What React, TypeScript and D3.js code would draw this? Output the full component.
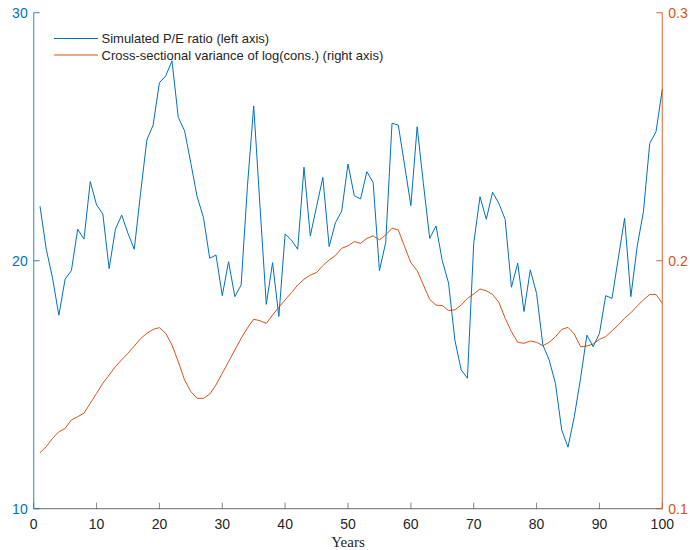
import React from "react";
import * as d3 from "d3";

const years: number[] = Array.from({ length: 100 }, (_, i) => i + 1);

const peRatio: number[] = [
  22.2, 20.46, 19.3, 17.8, 19.26, 19.6, 21.27, 20.87, 23.19, 22.25,
  21.88, 19.68, 21.27, 21.84, 21.1, 20.46, 22.72, 24.87, 25.47, 27.18,
  27.45, 28.06, 25.78, 25.24, 23.93, 22.58, 21.75, 20.1, 20.23, 18.59,
  19.96, 18.55, 19.02, 23.0, 26.24, 22.2, 18.24, 19.92, 17.75, 21.08,
  20.83, 20.46, 23.77, 21.0, 22.18, 23.36, 20.57, 21.53, 22.0, 23.9,
  22.62, 22.49, 23.59, 23.15, 19.6, 20.73, 25.54, 25.47, 23.86, 22.22,
  25.4, 23.1, 20.9, 21.4, 20.0, 19.1, 16.8, 15.6, 15.26, 20.7,
  22.58, 21.67, 22.76, 22.31, 21.67, 18.93, 19.9, 17.95, 19.63, 18.68,
  16.6, 16.0, 15.05, 13.17, 12.48, 13.71, 15.26, 17.0, 16.53, 17.07,
  18.59, 18.48, 20.1, 21.71, 18.55, 20.57, 21.98, 24.73, 25.2, 26.91,
];

const consVar: number[] = [
  0.1226, 0.125, 0.1284, 0.131, 0.1324, 0.1358, 0.1371, 0.1385, 0.1425, 0.1465,
  0.1506, 0.1539, 0.1573, 0.16, 0.1627, 0.1656, 0.1686, 0.1707, 0.1723, 0.173,
  0.1707, 0.166, 0.1593, 0.1519, 0.1472, 0.1445, 0.1445, 0.1462, 0.1499, 0.1546,
  0.1593, 0.164, 0.1687, 0.1729, 0.1764, 0.1758, 0.1747, 0.1781, 0.1812, 0.1842,
  0.1871, 0.1902, 0.1925, 0.1942, 0.1952, 0.198, 0.2003, 0.2021, 0.205, 0.206,
  0.2077, 0.207, 0.209, 0.21, 0.2084, 0.2104, 0.2131, 0.2124, 0.2057, 0.1992,
  0.196, 0.1902, 0.1844, 0.1821, 0.1819, 0.1799, 0.1802, 0.1821, 0.1848, 0.1866,
  0.1886, 0.1879, 0.1864, 0.1832, 0.1768, 0.1714, 0.1671, 0.1667, 0.1676, 0.1671,
  0.1657, 0.1671, 0.1693, 0.1723, 0.1731, 0.1704, 0.1653, 0.1656, 0.1664, 0.1683,
  0.1694, 0.1717, 0.1741, 0.1768, 0.179, 0.1817, 0.1842, 0.1864, 0.1864, 0.1828,
];

const xTicks: number[] = [0, 10, 20, 30, 40, 50, 60, 70, 80, 90, 100];
const leftTicks: number[] = [10, 20, 30];
const rightTicks: number[] = [0.1, 0.2, 0.3];
const legendLabels: string[] = [
  "Simulated P/E ratio (left axis)",
  "Cross-sectional variance of log(cons.) (right axis)",
];

const BLUE = "#0072BD";
const ORANGE = "#D95319";
const GRAY = "#262626";

export default function App() {
  const W = 690, H = 550;
  const L = 33.7, R = 662.3, T = 12.7, B = 508.7;
  const x = d3.scaleLinear().domain([0, 100]).range([L, R]);
  const yL = d3.scaleLinear().domain([10, 30]).range([B, T]);
  const yR = d3.scaleLinear().domain([0.1, 0.3]).range([B, T]);

  const lineL = d3.line<number>().x((_, i) => x(years[i])).y((d) => yL(d));
  const lineR = d3.line<number>().x((_, i) => x(years[i])).y((d) => yR(d));

  const font = "Liberation Sans, Arial, Helvetica, sans-serif";
  const tickLen = 6;

  return (
    <svg width={W} height={H} style={{ position: "absolute", left: 0, top: 0, background: "#fff" }}>
      <rect x={0} y={0} width={W} height={H} fill="#fff" />
      {/* data */}
      <path d={lineR(consVar) || ""} fill="none" stroke={ORANGE} strokeWidth={1} />
      <path d={lineL(peRatio) || ""} fill="none" stroke={BLUE} strokeWidth={1} />

      {/* bottom axis */}
      <line x1={L} x2={R} y1={B} y2={B} stroke={GRAY} strokeOpacity={0.55} strokeWidth={1.2} />
      {xTicks.map((t) => (
        <g key={"x" + t}>
          <line x1={x(t)} x2={x(t)} y1={B} y2={B - tickLen} stroke={GRAY} strokeOpacity={0.55} strokeWidth={1} />
          <text x={x(t)} y={B + 20} textAnchor="middle" fontFamily={font} fontSize={14} fill={GRAY}>{t}</text>
        </g>
      ))}
      <text x={(L + R) / 2} y={B + 38} textAnchor="middle" fontFamily="Liberation Serif, Times New Roman, serif" fontSize={15} fill={GRAY}>Years</text>

      {/* left axis */}
      <line x1={L} x2={L} y1={T} y2={B} stroke={BLUE} strokeOpacity={0.7} strokeWidth={1.2} />
      {leftTicks.map((t) => (
        <g key={"l" + t}>
          <line x1={L} x2={L + tickLen} y1={yL(t)} y2={yL(t)} stroke={BLUE} strokeOpacity={0.7} strokeWidth={1.2} />
          <text x={L - 6} y={yL(t) + 5} textAnchor="end" fontFamily={font} fontSize={14} fill={BLUE}>{t}</text>
        </g>
      ))}

      {/* right axis */}
      <line x1={R} x2={R} y1={T} y2={B} stroke={ORANGE} strokeOpacity={0.75} strokeWidth={1.2} />
      {rightTicks.map((t) => (
        <g key={"r" + t}>
          <line x1={R} x2={R - tickLen} y1={yR(t)} y2={yR(t)} stroke={ORANGE} strokeOpacity={0.75} strokeWidth={1.2} />
          <text x={R + 6} y={yR(t) + 5} textAnchor="start" fontFamily={font} fontSize={14} fill={ORANGE}>{t.toFixed(1)}</text>
        </g>
      ))}

      {/* legend */}
      {legendLabels.map((lab, i) => (
        <g key={"lg" + i}>
          <line x1={54} x2={98} y1={38.5 + i * 16.5} y2={38.5 + i * 16.5} stroke={i === 0 ? BLUE : ORANGE} strokeWidth={1} />
          <text x={101.5} y={43 + i * 16.5} fontFamily={font} fontSize={13} fill={GRAY}>{lab}</text>
        </g>
      ))}
    </svg>
  );
}
